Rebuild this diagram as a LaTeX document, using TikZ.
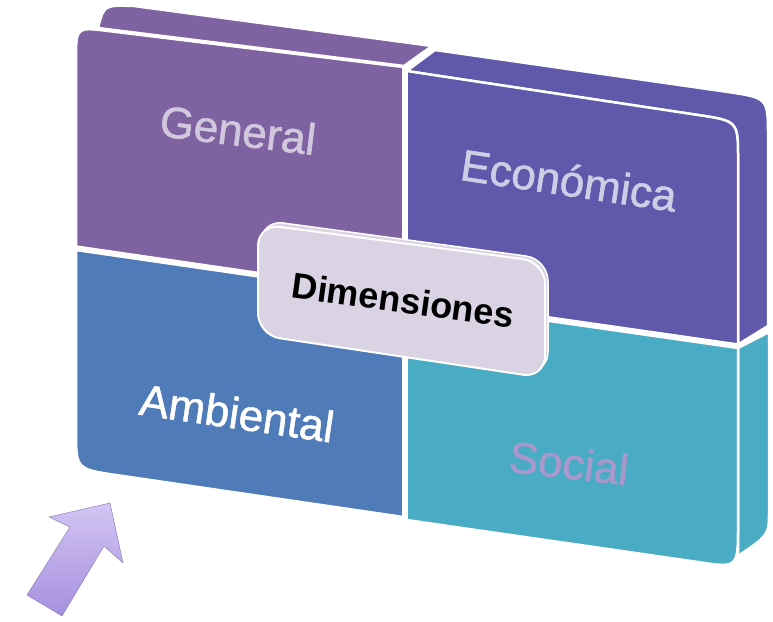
\documentclass[tikz,border=0pt]{standalone}
\usepackage{fontspec}
\setmainfont{Liberation Sans}
\definecolor{general}{HTML}{7F62A1}
\definecolor{economica}{HTML}{5F58AB}
\definecolor{ambiental}{HTML}{4F7BB9}
\definecolor{social}{HTML}{4AABC4}
\definecolor{socialtext}{HTML}{A898CB}
\definecolor{dimfill}{HTML}{D9D3E4}
\definecolor{arrowlight}{HTML}{D3C5F4}
\definecolor{arrowdark}{HTML}{A690DE}
\begin{document}
\begin{tikzpicture}[x=1pt,y=-1pt,
  face/.style={fill=#1,draw=white,line width=2.5pt,line join=round},
  facetext/.style={font=\fontsize{44}{44}\selectfont\addfontfeatures{FakeBold=1.2}}]
\useasboundingbox (0,0) rectangle (773,621);
\draw[face=general] (98,28) .. controls (104,5) .. (134,6)--(432,46)--(404,66)--cycle;
\draw[face=general] (76,246.5)--(76,60) .. controls (76,27) .. (108,31)--(403.3,67)--(403.3,294)--cycle;
\draw[face=economica] (406.7,71)--(435,50)--(728,92) .. controls (768,98) .. (768,137)--(768,326)--(738,344.5)--(738,160) .. controls (738,121) .. (698,115)--cycle;
\draw[face=economica] (406.7,71)--(698,115) .. controls (738,121) .. (738,160)--(738,344.5)--(406.7,297)--cycle;
\draw[face=social] (738,348)--(769,332)--(769,510) .. controls (769,535) .. (738,556)--cycle;
\draw[face=social] (406.7,300.5)--(738,348)--(738,525) .. controls (738,568) .. (698,562)--(406.7,520)--cycle;
\draw[face=ambiental] (76,250)--(403.3,297.5)--(403.3,517)--(116,475) .. controls (76,469) .. (76,430)--cycle;
\draw[face=dimfill,line width=1.5pt,rounded corners=22pt] (261,220)--(548,259)--(548,374)--(261,331)--cycle;
\draw[face=dimfill,line width=2pt,rounded corners=22pt] (258,224)--(545,262)--(545,378)--(258,335)--cycle;
\draw[top color=arrowlight,bottom color=arrowdark,draw=arrowdark!80!black,line width=0.4pt,line join=round]
  (110,503)--(123,563)--(104,546)--(62,616)--(27,595)--(70,527)--(49,517)--cycle;
\node[facetext,text=general!35!white,rotate=-7] (generaltxt) at (238,130) {General};
\node[facetext,text=economica!30!white,rotate=-8.5] (economicatxt) at (569,180) {Económica};
\node[facetext,text=white,rotate=-8.3] (ambientaltxt) at (237,413) {Ambiental};
\node[facetext,text=socialtext,rotate=-6.5] (socialtxt) at (569,463) {Social};
\node[font=\fontsize{36}{36}\selectfont\bfseries,rotate=-7.8] (dimensiones) at (403,300) {Dimensiones};
\end{tikzpicture}
\end{document}
